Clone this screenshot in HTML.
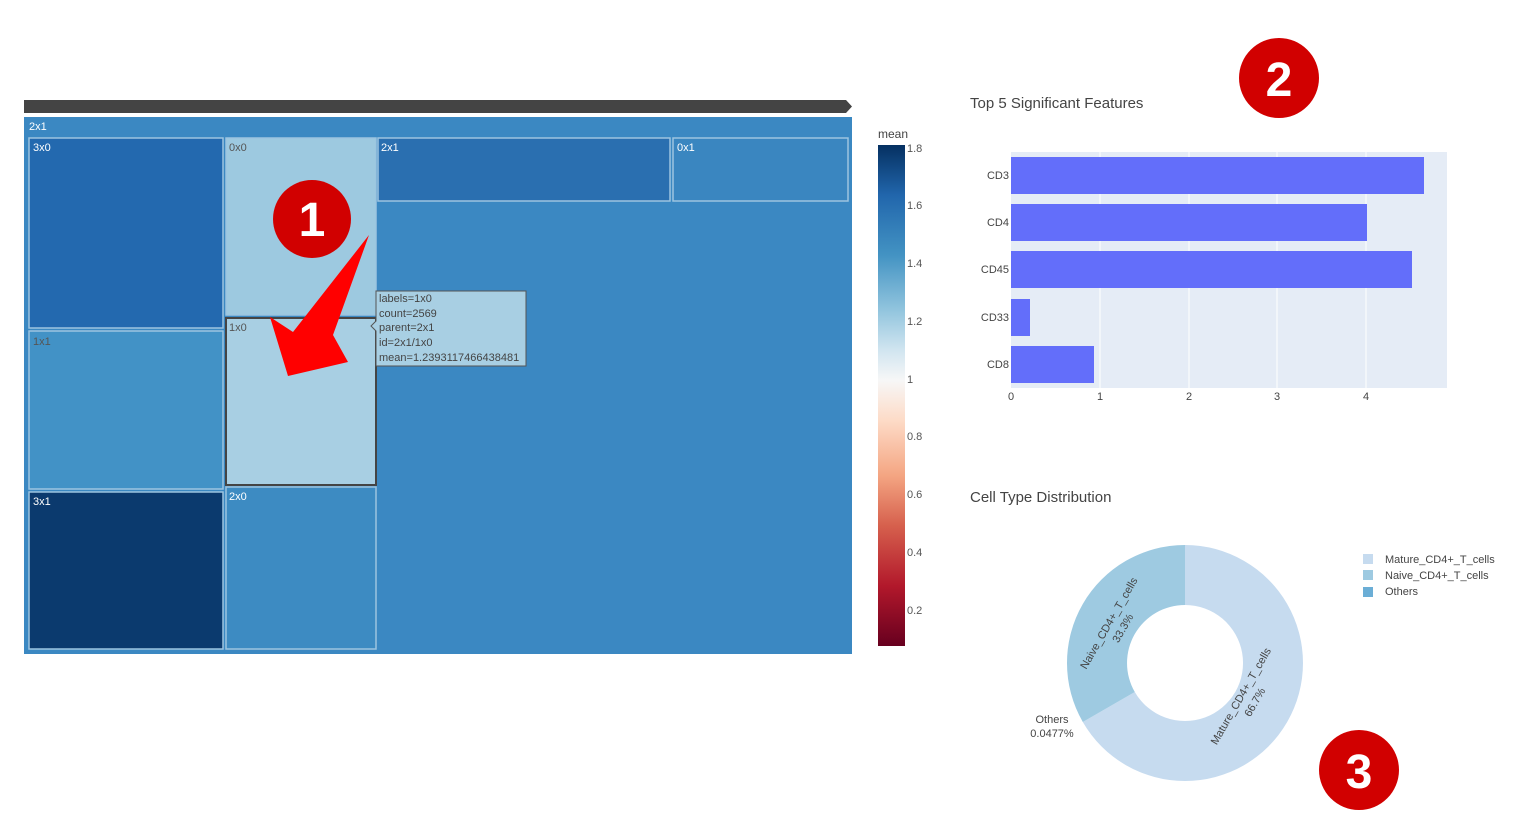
<!DOCTYPE html>
<html><head><meta charset="utf-8"><style>
html,body{margin:0;padding:0;background:#fff;width:1516px;height:823px;overflow:hidden}
svg{display:block;font-family:"Liberation Sans","DejaVu Sans",sans-serif}
</style></head><body>
<svg width="1516" height="823" viewBox="0 0 1516 823" xmlns="http://www.w3.org/2000/svg">
<defs>
<linearGradient id="rdbu" x1="0" y1="0" x2="0" y2="1">
<stop offset="0" stop-color="#053061"/><stop offset="0.1" stop-color="#2166ac"/>
<stop offset="0.22" stop-color="#4393c3"/><stop offset="0.33" stop-color="#92c5de"/>
<stop offset="0.41" stop-color="#d1e5f0"/><stop offset="0.47" stop-color="#f7f7f7"/>
<stop offset="0.55" stop-color="#fddbc7"/><stop offset="0.66" stop-color="#f4a582"/>
<stop offset="0.76" stop-color="#d6604d"/><stop offset="0.88" stop-color="#b2182b"/>
<stop offset="1" stop-color="#67001f"/>
</linearGradient>
</defs>
<!-- pathbar -->
<path d="M24 100 H846 L852 106.5 L846 113 H24 Z" fill="#444"/>
<!-- treemap -->
<rect x="24" y="117" width="828" height="537" fill="#3b88c2"/>
<g stroke="#9cc4e0" stroke-width="1.5">
<rect x="29" y="138" width="194" height="190" fill="#2369af"/>
<rect x="29" y="331" width="194" height="158" fill="#4292c6"/>
<rect x="29" y="492" width="194" height="157" fill="#0b3a6e"/>
<rect x="226" y="138" width="150" height="177" fill="#9dc9e0"/>
<rect x="226" y="487" width="150" height="162" fill="#3d8bc2"/>
<rect x="378" y="138" width="292" height="63" fill="#2a6fb0"/>
<rect x="673" y="138" width="175" height="63" fill="#3a86c0"/>
</g>
<rect x="226" y="318" width="150" height="167" fill="#a8cfe3" stroke="#444" stroke-width="2"/>
<g font-size="11" fill="#fff">
<text x="29" y="130">2x1</text><text x="33" y="151">3x0</text><text x="33" y="505">3x1</text>
<text x="381" y="151">2x1</text><text x="677" y="151">0x1</text><text x="229" y="500">2x0</text>
</g>
<g font-size="11" fill="#555">
<text x="229" y="151">0x0</text><text x="229" y="331">1x0</text><text x="33" y="345">1x1</text>
</g>
<!-- tooltip -->
<path d="M376 291 H526 V366 H376 V331 L371 326 L376 321 Z" fill="#a8cfe3" stroke="#555" stroke-width="1"/>
<g font-size="11" fill="#444">
<text x="379" y="302">labels=1x0</text><text x="379" y="317">count=2569</text>
<text x="379" y="331">parent=2x1</text><text x="379" y="346">id=2x1/1x0</text>
<text x="379" y="361">mean=1.2393117466438481</text>
</g>
<!-- annotation 1 -->
<circle cx="312" cy="219" r="39" fill="#d10000"/>
<text x="312" y="236" font-size="48" font-weight="bold" fill="#fff" text-anchor="middle">1</text>
<path d="M369 235 L333 335 L348 362 L288 376 L270 317 L293 332 Z" fill="#f00"/>
<!-- colorbar -->
<text x="878" y="138" font-size="12" fill="#444">mean</text>
<rect x="878" y="145" width="27" height="501" fill="url(#rdbu)"/>
<g font-size="11" fill="#555">
<text x="907" y="152">1.8</text><text x="907" y="209">1.6</text><text x="907" y="267">1.4</text>
<text x="907" y="325">1.2</text><text x="907" y="383">1</text><text x="907" y="440">0.8</text>
<text x="907" y="498">0.6</text><text x="907" y="556">0.4</text><text x="907" y="614">0.2</text>
</g>
<!-- bar chart -->
<text x="970" y="108" font-size="15" fill="#444">Top 5 Significant Features</text>
<rect x="1011" y="152" width="436" height="236" fill="#e5ecf6"/>
<g stroke="#fff" stroke-width="1">
<line x1="1100" y1="152" x2="1100" y2="388"/><line x1="1189" y1="152" x2="1189" y2="388"/>
<line x1="1277" y1="152" x2="1277" y2="388"/><line x1="1366" y1="152" x2="1366" y2="388"/>
</g>
<g fill="#636efa">
<rect x="1011" y="157" width="413" height="37"/><rect x="1011" y="204" width="356" height="37"/>
<rect x="1011" y="251" width="401" height="37"/><rect x="1011" y="299" width="19" height="37"/>
<rect x="1011" y="346" width="83" height="37"/>
</g>
<g font-size="11" fill="#444" text-anchor="end">
<text x="1009" y="179">CD3</text><text x="1009" y="226">CD4</text><text x="1009" y="273">CD45</text>
<text x="1009" y="321">CD33</text><text x="1009" y="368">CD8</text>
</g>
<g font-size="11" fill="#444" text-anchor="middle">
<text x="1011" y="400">0</text><text x="1100" y="400">1</text><text x="1189" y="400">2</text>
<text x="1277" y="400">3</text><text x="1366" y="400">4</text>
</g>
<circle cx="1279" cy="78" r="40" fill="#d10000"/>
<text x="1279" y="96" font-size="48" font-weight="bold" fill="#fff" text-anchor="middle">2</text>
<!-- donut -->
<text x="970" y="502" font-size="15" fill="#444">Cell Type Distribution</text>
<path d="M1185 545 A118 118 0 1 1 1082.8 722 L1134.8 692 A58 58 0 1 0 1185 605 Z" fill="#c6dbef"/>
<path d="M1185 545 L1185 605 A58 58 0 0 0 1134.8 692 L1082.8 722 A118 118 0 0 1 1185 545 Z" fill="#9ecae1"/>
<g font-size="11" fill="#444" text-anchor="middle">
<text transform="translate(1112 625) rotate(-60)">Naive_CD4+_T_cells</text>
<text transform="translate(1126 630) rotate(-60)">33.3%</text>
<text transform="translate(1244 698) rotate(-60)">Mature_CD4+_T_cells</text>
<text transform="translate(1258 704) rotate(-60)">66.7%</text>
<text x="1052" y="723">Others</text><text x="1052" y="737">0.0477%</text>
</g>
<rect x="1363" y="554" width="10" height="10" fill="#c6dbef"/>
<rect x="1363" y="570" width="10" height="10" fill="#9ecae1"/>
<rect x="1363" y="587" width="10" height="10" fill="#6baed6"/>
<g font-size="11" fill="#444">
<text x="1385" y="563">Mature_CD4+_T_cells</text><text x="1385" y="579">Naive_CD4+_T_cells</text>
<text x="1385" y="595">Others</text>
</g>
<circle cx="1359" cy="770" r="40" fill="#d10000"/>
<text x="1359" y="788" font-size="48" font-weight="bold" fill="#fff" text-anchor="middle">3</text>
</svg>
</body></html>
